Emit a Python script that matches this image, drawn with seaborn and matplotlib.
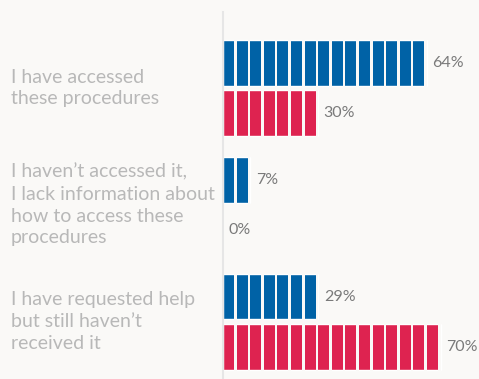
import matplotlib
matplotlib.use("Agg")
import matplotlib.pyplot as plt
import matplotlib.transforms as mtransforms
from matplotlib.patches import Rectangle
import numpy as np
import pandas as pd
import seaborn as sns

# data
categories = [
    "I have accessed\nthese procedures",
    "I haven\u2019t accessed it,\nI lack information about\nhow to access these\nprocedures",
    "I have requested help\nbut still haven\u2019t\nreceived it",
]
series_names = ["Series A", "Series B"]
series_a = [64, 7, 29]
series_b = [30, 0, 70]

# look
BG = "#faf9f7"
BLUE = "#0062a6"
RED = "#de2350"
LABEL_GREY = "#b8b8b8"
VALUE_GREY = "#7a7a7a"
SEG = 100 / 23        # one block of the bar = 1/23 of 100%
GAP = 0.86            # white gap between blocks, in % units

sns.set_theme(style="white")
plt.rcParams["font.family"] = ["Lato", "DejaVu Sans"]

# bars are drawn as whole blocks, so round each value to the block grid
df = pd.DataFrame({
    "category": categories * 2,
    "series": [series_names[0]] * 3 + [series_names[1]] * 3,
    "value": series_a + series_b,
})
df["shown"] = np.round(df["value"] / SEG) * SEG

fig = plt.figure(figsize=(4.79, 3.79), dpi=100, facecolor=BG)
ax = fig.add_axes([223 / 479, 0, 256 / 479, 367 / 379])
ax.set_facecolor(BG)

sns.barplot(data=df, x="shown", y="category", hue="series", orient="h",
            palette=[BLUE, RED], saturation=1, width=0.863, gap=0.089,
            legend=False, ax=ax)

ax.set_xlim(0, 81.84)
ax.set_ylim(2.49, -0.65)

# cut every bar into blocks
for p in list(ax.patches):
    w = p.get_width()
    n = int(round(w / SEG))
    y0, h = p.get_y(), p.get_height()
    for k in range(1, n + 1):
        ax.add_patch(Rectangle((k * SEG - GAP, y0 - 0.01), GAP, h + 0.02,
                               facecolor=BG, edgecolor="none", zorder=3))

# value labels
for cont, vals in zip(ax.containers, [series_a, series_b]):
    ax.bar_label(cont, labels=[f"{v}%" for v in vals], padding=4,
                 color=VALUE_GREY, fontsize=11.5)

# category labels on the left
trans = mtransforms.blended_transform_factory(fig.transFigure, ax.transData)
for i, cat in enumerate(categories):
    ax.text(11 / 479, i, cat, transform=trans, ha="left", va="center",
            fontsize=14, color=LABEL_GREY, linespacing=1.35)

ax.set_xticks([])
ax.set_yticks([])
ax.set_xlabel("")
ax.set_ylabel("")
for side in ["top", "right", "bottom"]:
    ax.spines[side].set_visible(False)
ax.spines["left"].set_color("#e6e6e6")
ax.spines["left"].set_linewidth(1.5)

fig.savefig("out.png", dpi=100, facecolor=BG)
